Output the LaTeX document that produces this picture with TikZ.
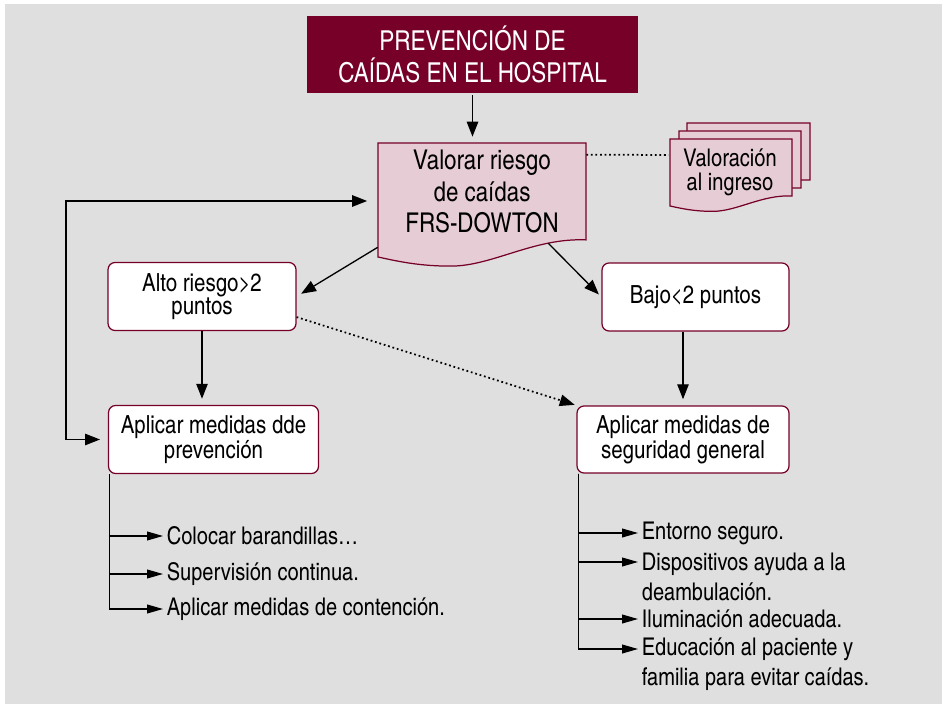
\documentclass[tikz,border=0pt]{standalone}
\usepackage{fontspec}
\setmainfont{TeX Gyre Heros Cn}
\usepackage{xcolor}
\definecolor{granate}{HTML}{760028}
\definecolor{rosa}{HTML}{E6CDD5}
\definecolor{fondo}{HTML}{DFDFDF}
\usepackage{tikz}
\usetikzlibrary{arrows.meta}

% hoja con borde ondulado: esquina (x,y), ancho, alto
\newcommand{\hoja}[4]{%
  \draw[hoja] (#1,#2) -- ({#1+#3},#2) -- ({#1+#3},{#2+0.85*#4})
    .. controls ({#1+0.75*#3},{#2+0.83*#4}) and ({#1+0.55*#3},{#2+1.08*#4}) .. ({#1+0.35*#3},{#2+1.08*#4})
    .. controls ({#1+0.2*#3},{#2+1.08*#4}) and ({#1+0.1*#3},{#2+1.04*#4}) .. (#1,{#2+#4}) -- cycle;}

\begin{document}
\begin{tikzpicture}[x=0.02cm,y=-0.02cm,
  caja/.style={draw=granate,fill=white,rounded corners=4pt,line width=0.7pt,
    align=center,font=\fontsize{14.2}{12.7}\selectfont},
  hoja/.style={draw=granate,fill=rosa,line width=0.7pt},
  punta/.style={Triangle[length=8.5pt,width=6.5pt]},
  flecha/.style={-{Triangle[length=8.5pt,width=6.5pt]},line width=0.75pt},
  flechita/.style={-{Triangle[length=9pt,width=5pt]},line width=0.65pt},
  punteado/.style={line width=1pt,dash pattern=on 1pt off 1.6pt},
  lista/.style={anchor=west,align=left,inner sep=2pt,font=\fontsize{13.9}{17.2}\selectfont}]
  \useasboundingbox (0,0) rectangle (946,705);
  \fill[fondo] (5,4) rectangle (942,704);

  \node[fill=granate,text=white,minimum width=6.62cm,minimum height=1.54cm,align=center,
    font=\fontsize{15.6}{18.1}\selectfont] (titulo) at (472.5,54.5) {PREVENCIÓN DE\\CAÍDAS EN EL HOSPITAL};

  \hoja{378}{143}{208}{114}
  \node[minimum width=4.16cm,minimum height=1.94cm,align=center,
    font=\fontsize{15.5}{18.2}\selectfont] (valorar) at (482,191.5) {Valorar riesgo\\de caídas\\FRS-DOWTON};

  \hoja{687}{123}{123}{67}
  \hoja{679}{131}{122}{67}
  \hoja{670}{139}{122}{67}
  \node[minimum width=2.44cm,minimum height=1.12cm,align=center,
    font=\fontsize{13.9}{13.6}\selectfont] (ingreso) at (730,172) {Valoración\\al ingreso};

  \node[caja,minimum width=3.76cm,minimum height=1.36cm] (alto) at (202,296.5) {Alto riesgo>2\\puntos};
  \node[caja,minimum width=4.2cm,minimum height=1.36cm] (prev) at (213.5,439.5) {Aplicar medidas dde\\prevención};
  \node[caja,minimum width=3.74cm,minimum height=1.36cm] (bajo) at (695.5,297) {Bajo<2 puntos};
  \node[caja,minimum width=4.24cm,minimum height=1.34cm] (seg) at (683,439.5) {Aplicar medidas de\\seguridad general};

  % medidas de prevencion
  \node[lista] (l1) at (163,536) {Colocar barandillas…};
  \node[lista] (l2) at (163,574) {Supervisión continua.};
  \node[lista] (l3) at (163,609) {Aplicar medidas de contención.};
  % medidas generales
  \node[lista] (r1) at (638,533) {Entorno seguro.};
  \node[lista] (r2) at (638,577) {Dispositivos ayuda a la\\deambulación.};
  \node[lista] (r3) at (638,619) {Iluminación adecuada.};
  \node[lista] (r4) at (638,664) {Educación al paciente y\\familia para evitar caídas.};

  \draw[flecha,shorten <=1pt,shorten >=3.4pt] (titulo.south) -- (titulo.south |- valorar.north);
  \draw[punteado] ([yshift=-0.24cm]valorar.north east) -- ([yshift=0.34cm]ingreso.west);
  \draw[flecha,shorten >=3pt] ([yshift=-0.14cm]valorar.south west) -- (alto.east);
  \draw[flecha,shorten >=2pt] ([xshift=-0.76cm,yshift=-0.06cm]valorar.south east) -- (bajo.west);
  \draw[flecha,shorten >=3.5pt] (alto.south) -- (alto.south |- prev.north);
  \draw[flecha,shorten >=3.5pt] (seg.north |- bajo.south) -- (seg.north);
  \draw[flecha,punteado,shorten >=1pt] ([yshift=0.28cm]alto.south east) -- (seg.north west);
  \draw[flecha,{Triangle[length=8.5pt,width=6.5pt]}-{Triangle[length=8.5pt,width=6.5pt]},
    shorten <=4.5pt,shorten >=6pt]
    (prev.west) -- ++(-42,0) |- ([yshift=-0.19cm]valorar.west);

  \foreach \n in {l1,l2,l3}
    \draw[flechita] ([xshift=0.04cm]prev.south west) |- (\n.west);
  \foreach \n in {r1,r3}
    \draw[flechita] ([xshift=0.04cm]seg.south west) |- (\n.west);
  \foreach \n in {r2,r4}
    \draw[flechita] ([xshift=0.04cm]seg.south west) |- ([yshift=0.3cm]\n.west);
\end{tikzpicture}
\end{document}
